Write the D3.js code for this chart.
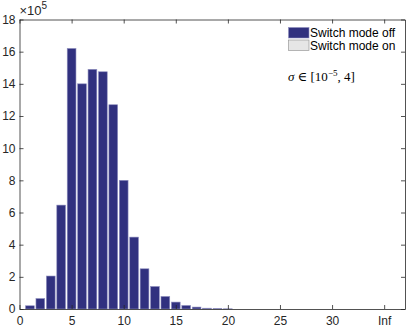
<!DOCTYPE html>
<html>
<head>
<meta charset="utf-8">
<script src="https://cdn.jsdelivr.net/npm/d3@7"></script>
<style>
  body { margin: 0; background: #fff; }
  svg { display: block; }
</style>
</head>
<body>
<div id="chart"></div>
<script>
// histogram of counts (x 10^5), bins 1..20
var bins = [1, 2, 3, 4, 5, 6, 7, 8, 9, 10, 11, 12, 13, 14, 15, 16, 17, 18, 19, 20];
var switchOff = [0.2, 0.65, 2.05, 6.46, 16.2, 14.0, 14.9, 14.75, 12.7, 8.0, 4.47, 2.5, 1.4, 0.78, 0.43, 0.22, 0.12, 0.05, 0.025, 0.012];
var xTicks = [0, 5, 10, 15, 20, 25, 30, 35];
var yTicks = [0, 2, 4, 6, 8, 10, 12, 14, 16, 18];
var legendLabels = ["Switch mode off", "Switch mode on"];

var W = 407, H = 329;
var margin = { top: 19.5, right: 2, bottom: 20, left: 19.5 },
    width = W - margin.left - margin.right,
    height = H - margin.top - margin.bottom;

var svg = d3.select("#chart")
    .append("svg")
    .attr("width", W)
    .attr("height", H)
    .style("font-family", "'Liberation Sans', Arial, sans-serif");

var g = svg.append("g")
    .attr("transform", "translate(" + margin.left + "," + margin.top + ")");

var x = d3.scaleLinear().domain([0, 37]).range([0, width]);
var y = d3.scaleLinear().domain([0, 18]).range([height, 0]);
var bw = x(0.84) - x(0);

// bars
g.selectAll("rect.bar")
    .data(bins)
    .enter().append("rect")
    .attr("class", "bar")
    .attr("x", function (d) { return x(d) - bw / 2; })
    .attr("y", function (d, i) { return y(switchOff[i]); })
    .attr("width", bw)
    .attr("height", function (d, i) { return y(0) - y(switchOff[i]); })
    .attr("fill", "#31317f")
    .attr("stroke", "#8f8fbf")
    .attr("stroke-width", 0.6);

var axisColor = "#262626";

// bottom & left axes, ticks inward
var xAxis = g.append("g")
    .attr("transform", "translate(0," + height + ")")
    .call(d3.axisBottom(x).tickValues(xTicks).tickSizeInner(-4).tickSizeOuter(0)
        .tickFormat(function (d) { return d === 35 ? "Inf" : d; }));
var yAxis = g.append("g")
    .call(d3.axisLeft(y).tickValues(yTicks).tickSizeInner(-4).tickSizeOuter(0));
var xTop = g.append("g")
    .call(d3.axisTop(x).tickValues(xTicks).tickSizeInner(-4).tickSizeOuter(0).tickFormat(""));
var yRight = g.append("g")
    .attr("transform", "translate(" + width + ",0)")
    .call(d3.axisRight(y).tickValues(yTicks).tickSizeInner(-4).tickSizeOuter(0).tickFormat(""));

[xAxis, yAxis, xTop, yRight].forEach(function (a) {
    a.selectAll("path").attr("stroke", axisColor).attr("stroke-width", 0.8);
    a.selectAll("line").attr("stroke", axisColor).attr("stroke-width", 0.8);
    a.selectAll("text").attr("fill", "#262626").style("font-size", "12px")
        .style("font-family", "'Liberation Sans', Arial, sans-serif");
});
xAxis.selectAll("text").attr("dy", "0.71em").attr("y", 7);
yAxis.selectAll("text").attr("x", -4);

// exponent label
var expo = svg.append("text")
    .attr("x", margin.left)
    .attr("y", 15)
    .attr("fill", "#262626")
    .style("font-size", "13px");
expo.append("tspan").text("\u00d710");
expo.append("tspan").attr("dy", -6).style("font-size", "10px").text("5");

// legend
var lg = svg.append("g").attr("transform", "translate(288,27)");
var swatch = ["#31317f", "#e6e6e6"];
legendLabels.forEach(function (lab, i) {
    lg.append("rect")
        .attr("x", 0.5).attr("y", i * 12.5 + 0.5)
        .attr("width", 20.5).attr("height", 10.5)
        .attr("fill", swatch[i])
        .attr("stroke", i === 0 ? "#8f8fbf" : "#8a8a8a")
        .attr("stroke-width", 0.6);
    lg.append("text")
        .attr("x", 22).attr("y", i * 12.5 + 6)
        .attr("dy", "0.35em")
        .attr("fill", "#000")
        .style("font-size", "12px")
        .text(lab);
});

// sigma annotation
var sig = svg.append("text")
    .attr("x", 288)
    .attr("y", 81)
    .attr("fill", "#000")
    .style("font-family", "'Liberation Serif', 'DejaVu Serif', serif")
    .style("font-size", "13px");
sig.append("tspan").style("font-style", "italic").text("\u03c3");
sig.append("tspan").text(" \u2208 [10");
sig.append("tspan").attr("dy", -5).style("font-size", "9px").text("\u22125");
sig.append("tspan").attr("dy", 5).text(", 4]");
</script>
</body>
</html>
